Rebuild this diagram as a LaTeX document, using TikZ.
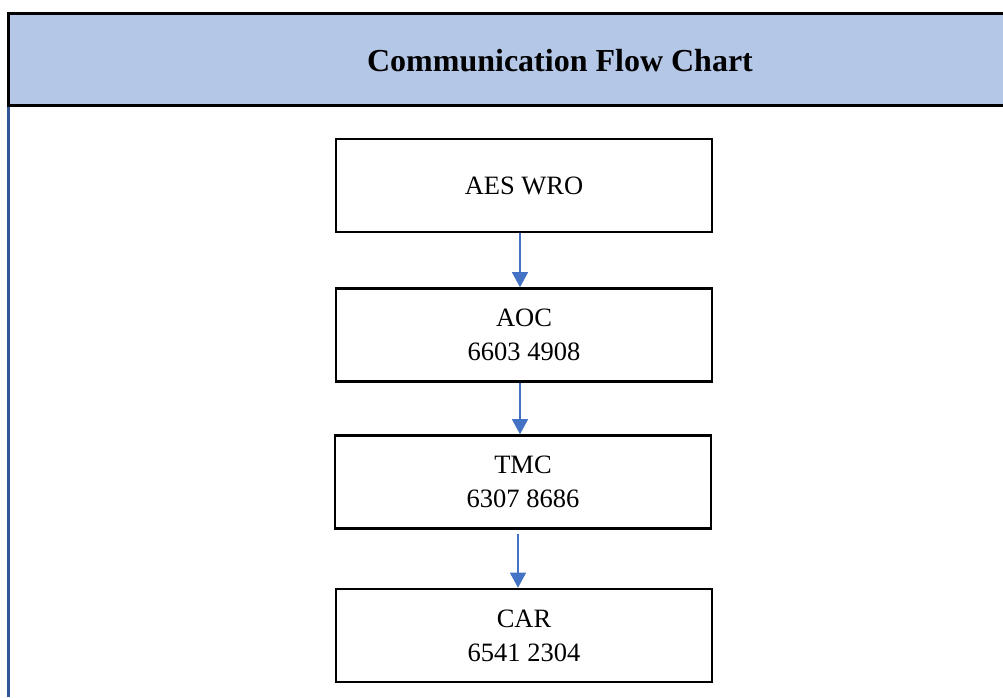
\documentclass[tikz,border=0pt]{standalone}
\usepackage{fontspec}
\setmainfont{Liberation Serif}
\usetikzlibrary{arrows.meta}
\definecolor{hdr}{HTML}{B4C7E7}
\definecolor{sideline}{HTML}{2F5597}
\definecolor{arr}{HTML}{4472C4}
\tikzset{
  box/.style={draw=black, line width=2.6pt, minimum width=376pt, minimum height=93pt,
    align=center, inner sep=0pt, font=\fontsize{26.5}{34}\selectfont},
  link/.style={draw=arr, line width=1.3pt, -{Triangle[length=15pt,width=16pt]}}
}
\begin{document}
\begin{tikzpicture}[x=1pt,y=-1pt]
\useasboundingbox (0,0) rectangle (1003,697);
\fill[white] (0,0) rectangle (1003,697);
\fill[hdr] (8.5,13.5) rectangle (1003,105.5);
\draw[sideline, line width=3pt] (8.5,105) -- (8.5,697);
\draw[black, line width=3.2pt] (1003,13.5) -- (8.5,13.5) -- (8.5,105.5) -- (1003,105.5);
\node[font=\bfseries\fontsize{32}{38}\selectfont] (title) at (560,61) {Communication Flow Chart};
\node[box] (b1) at (524,185.5) {\raisebox{-3pt}{AES WRO}};
\node[box] (b2) at (524,335) {AOC\\6603 4908};
\node[box] (b3) at (523,482) {TMC\\6307 8686};
\node[box] (b4) at (524,635.5) {CAR\\6541 2304};
\draw[link] ([xshift=-4pt]b1.south) -- ([xshift=-4pt]b2.north);
\draw[link] ([xshift=-4pt]b2.south) -- ([xshift=-3pt]b3.north);
\draw[link] ([xshift=-5pt,yshift=-4pt]b3.south) -- ([xshift=-6pt]b4.north);
\end{tikzpicture}
\end{document}
